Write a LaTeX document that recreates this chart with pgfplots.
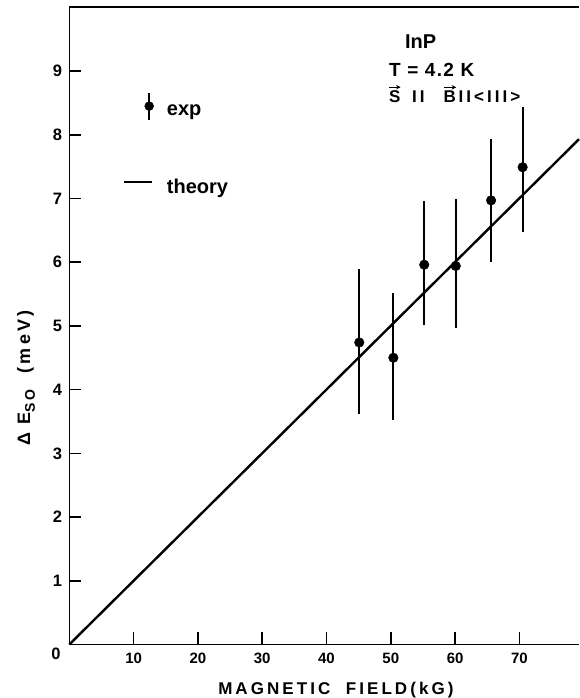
\documentclass[border=0pt]{standalone}
\usepackage{fontspec}
\setmainfont{Liberation Sans}
\newfontfamily\spaced{Liberation Sans}[LetterSpace=18]
\newfontfamily\spacedb{Liberation Sans}[LetterSpace=7]
\usepackage{pgfplots}
\pgfplotsset{compat=1.18}
\usetikzlibrary{arrows.meta}

\newcommand{\fs}[1]{\fontsize{#1}{#1}\selectfont\bfseries}

\begin{document}
\begin{tikzpicture}
\begin{axis}[
  scale only axis,
  width=509.7pt, height=637.2pt,
  xmin=0, xmax=79.27, ymin=0, ymax=10,
  axis x line*=bottom, axis y line*=left,
  axis line style={-, line width=1.6pt},
  clip=false,
  xtick={10,20,...,70}, ytick={1,...,9},
  tick align=inside,
  major tick length=12pt,
  tick style={line width=1.6pt, black},
  /pgf/number format/assume math mode=true,
  xticklabel style={font=\fs{15}, inner sep=0pt, yshift=-8.5pt},
  yticklabel style={font=\fs{16.5}, inner sep=0pt, xshift=-7pt},
  xlabel={\spaced\fs{17}MAGNETIC\ \ FIELD(kG)},
  xlabel style={at={(axis description cs:0.523,0)}, anchor=base, yshift=-49.5pt, inner sep=0pt},
  ylabel={\spaced\fs{18}Δ E\raisebox{-5pt}{\fs{14}SO}\ \ (meV)},
  ylabel style={at={(axis description cs:-0.0771,0.418)}, anchor=base, inner sep=0pt},
  legend style={draw=none, fill=none, inner sep=0pt, row sep=58pt, column sep=13pt,
    at={(axis cs:8.35,8.68)}, anchor=north west,
    nodes={inner sep=0pt, font=\fs{20}}},
  legend cell align=left,
]
% experiment, with error bars
\addplot[only marks, mark=*, mark size=4.8pt, black,
  legend image code/.code={
    \path[draw=none, fill=none] (0pt,5pt) -- (29.5pt,5pt);
    \draw[line width=2pt] (25pt,-8.5pt) -- (25pt,18.5pt);
    \fill (25pt,5pt) circle (4.5pt);},
  error bars/.cd, y dir=both, y explicit, error mark=none,
  error bar style={line width=2pt}]
coordinates {
  (45.1,4.74) += (0,1.16) -= (0,1.13)
  (50.4,4.50) += (0,1.01) -= (0,0.97)
  (55.2,5.96) += (0,1.00) -= (0,0.94)
  (60.1,5.94) += (0,1.05) -= (0,0.97)
  (65.6,6.97) += (0,0.96) -= (0,0.97)
  (70.5,7.49) += (0,0.94) -= (0,1.02)
};
\addlegendentry{exp}
% theory
\addplot[black, line width=2.4pt,
  legend image code/.code={
    \draw[line width=2pt] (0pt,5pt) -- (28pt,5pt);
    \path[draw=none, fill=none] (29.5pt,5pt);}]
coordinates {(0,0) (79.27,7.93)};
\addlegendentry{theory}

\draw[line width=1.6pt] (rel axis cs:0,1) -- (rel axis cs:1,1);
\node[anchor=north east, inner sep=0pt, font=\fs{16.5}] at (rel axis cs:0,0) [xshift=-8.6pt, yshift=-3pt] {0};
\node[anchor=base west, inner sep=0pt, font=\fs{20}] at (axis cs:52.2,9.36) {InP};
\node[anchor=base west, inner sep=0pt, font=\spacedb\fs{19}] at (axis cs:49.7,8.92) {T = 4.2 K};
\node[anchor=base west, inner sep=0pt, font=\fs{17}] (s) at (axis cs:49.7,8.51) {S};
\node[anchor=base west, inner sep=0pt, font=\spaced\fs{17}] at (axis cs:53.3,8.51) {II};
\node[anchor=base west, inner sep=0pt, font=\fs{17}] (b) at (axis cs:58.2,8.51) {B};
\node[anchor=base west, inner sep=0pt, font=\spaced\fs{17}] at (axis cs:60.5,8.51) {II<III>};
\draw[-{Stealth[length=4.5pt,width=4.5pt]}, line width=1.1pt] ([yshift=3pt]s.north west) -- ([yshift=3pt]s.north east);
\draw[-{Stealth[length=4.5pt,width=4.5pt]}, line width=1.1pt] ([yshift=3pt]b.north west) -- ([yshift=3pt]b.north east);

\coordinate (O) at (rel axis cs:0,0);
\coordinate (TR) at (rel axis cs:1,1);
\end{axis}
\pgfresetboundingbox
\path ([xshift=-69.3pt,yshift=-53.5pt]O) rectangle ([yshift=7.3pt]TR);
\end{tikzpicture}
\end{document}
